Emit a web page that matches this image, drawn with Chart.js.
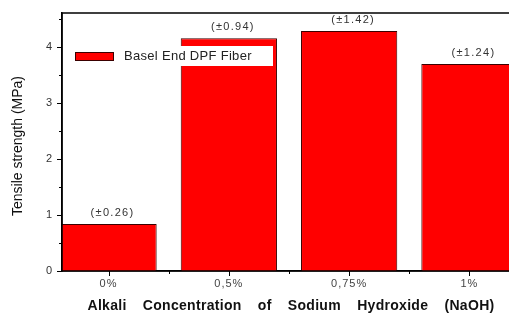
<!DOCTYPE html>
<html><head><meta charset="utf-8">
<script src="https://cdn.jsdelivr.net/npm/chart.js@4/dist/chart.umd.min.js"></script>
<style>html,body{margin:0;padding:0;background:#fff;overflow:hidden;width:509px;height:316px}</style>
</head><body>
<canvas id="c" width="530" height="316"></canvas>
<script>
const categories = ["0%", "0,5%", "0,75%", "1%"];
const tensile = [0.84, 4.16, 4.29, 3.70];
const errorLabels = ["(±0.26)", "(±0.94)", "(±1.42)", "(±1.24)"];
const yTicks = [0, 1, 2, 3, 4];
const seriesName = "Basel End DPF Fiber";
const yTitle = "Tensile strength (MPa)";
const xTitle = "Alkali Concentration of Sodium Hydroxide (NaOH)";

const FONT = '"Liberation Sans", Arial, sans-serif';

const decor = {
  id: 'decor',
  beforeDraw(chart) { chart.ctx.letterSpacing = '1px'; },
  afterDatasetsDraw(chart) {
    const ctx = chart.ctx, a = chart.chartArea;
    const xs = chart.scales.x, ys = chart.scales.y;
    ctx.save();
    // error labels
    ctx.font = '11px ' + FONT;
    ctx.letterSpacing = '1.3px';
    ctx.fillStyle = '#333';
    ctx.textAlign = 'center';
    ctx.textBaseline = 'middle';
    tensile.forEach((v, i) => {
      ctx.fillText(errorLabels[i], xs.getPixelForValue(i) + 4, ys.getPixelForValue(v) - 11);
    });
    // legend
    ctx.letterSpacing = '0.3px';
    ctx.fillStyle = '#fff';
    ctx.fillRect(a.left + 60, a.top + 33, 151, 20);
    ctx.fillStyle = '#ff0000';
    ctx.fillRect(a.left + 13, a.top + 39, 39, 9);
    ctx.strokeStyle = '#3a0000';
    ctx.lineWidth = 1;
    ctx.strokeRect(a.left + 13.5, a.top + 39.5, 38, 8);
    ctx.fillStyle = '#222';
    ctx.textAlign = 'left';
    ctx.font = '13px ' + FONT;
    ctx.fillText(seriesName, a.left + 62, a.top + 43.5);
    ctx.restore();
  },
  afterDraw(chart) {
    const ctx = chart.ctx, a = chart.chartArea;
    const xs = chart.scales.x, ys = chart.scales.y;
    ctx.save();
    ctx.strokeStyle = '#000';
    ctx.lineWidth = 1.5;
    ctx.strokeRect(a.left, a.top, a.right - a.left, a.bottom - a.top);
    ctx.lineWidth = 1;
    for (let v = 0; v <= 4.5; v += 0.5) {
      const y = Math.round(ys.getPixelForValue(v)) + 0.5;
      const len = Number.isInteger(v) ? 5 : 3;
      ctx.beginPath(); ctx.moveTo(a.left - len, y); ctx.lineTo(a.left, y); ctx.stroke();
    }
    for (let v = 0; v <= 3; v += 0.5) {
      const x = Math.round(xs.getPixelForValue(v)) + 0.5;
      const len = Number.isInteger(v) ? 5 : 3;
      ctx.beginPath(); ctx.moveTo(x, a.bottom); ctx.lineTo(x, a.bottom + len); ctx.stroke();
    }
    // titles
    ctx.fillStyle = '#111';
    ctx.textAlign = 'center';
    ctx.textBaseline = 'middle';
    ctx.letterSpacing = '0.3px';
    ctx.font = 'bold 14px ' + FONT;
    ctx.wordSpacing = '12px';
    ctx.fillText(xTitle, 291, 306);
    ctx.wordSpacing = '0px';
    ctx.font = '14px ' + FONT;
    ctx.letterSpacing = '0px';
    ctx.translate(18, 146);
    ctx.rotate(-Math.PI / 2);
    ctx.fillText(yTitle, 0, 0);
    ctx.restore();
    ctx.letterSpacing = '0px';
  }
};

new Chart(document.getElementById('c'), {
  type: 'bar',
  data: {
    datasets: [{
      label: seriesName,
      data: tensile.map((v, i) => ({ x: i, y: v })),
      backgroundColor: '#ff0000',
      borderColor: '#3a0000',
      borderWidth: 1,
      categoryPercentage: 1,
      barPercentage: 0.8
    }]
  },
  options: {
    responsive: false,
    devicePixelRatio: 1,
    animation: false,
    layout: { padding: { left: 0, top: 13, right: 14, bottom: 0 } },
    plugins: { legend: { display: false }, tooltip: { enabled: false } },
    scales: {
      x: {
        type: 'linear', min: -0.387, max: 3.387, offset: false,
        afterFit(s) { s.height = 45; },
        afterBuildTicks(s) { s.ticks = [0, 1, 2, 3].map(v => ({ value: v })); },
        grid: { display: false },
        border: { display: true, color: '#000', width: 1.5 },
        ticks: {
          padding: -2, color: '#444', font: { family: FONT, size: 11 },
          maxRotation: 0, autoSkip: false,
          callback: v => categories[v]
        }
      },
      y: {
        min: 0, max: 4.61,
        afterFit(s) { s.width = 62; },
        afterBuildTicks(s) { s.ticks = yTicks.map(v => ({ value: v })); },
        grid: { display: false },
        border: { display: true, color: '#000', width: 1.5 },
        ticks: { padding: 1, color: '#333', font: { family: FONT, size: 11 } }
      }
    }
  },
  plugins: [decor]
});
</script>
</body></html>
